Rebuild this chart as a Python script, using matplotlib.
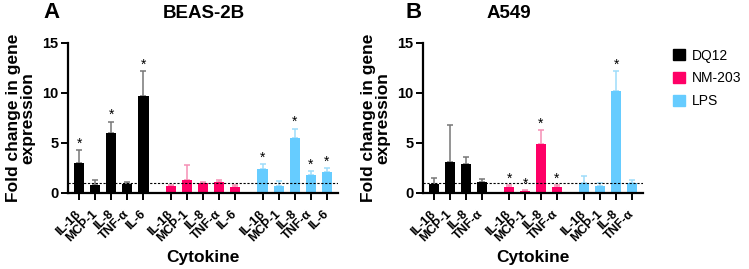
import numpy as np
import matplotlib.pyplot as plt
from matplotlib.transforms import ScaledTranslation

plt.rcParams["font.family"] = ["Liberation Sans", "DejaVu Sans"]

# ---- data ----
groups = ["DQ12", "NM-203", "LPS"]
colors = ["#000000", "#FF0066", "#66CCFF"]
err_colors = ["#777777", "#F58FB5", "#9EDCFA"]

cyt_a = ["IL-1β", "MCP-1", "IL-8", "TNF-α", "IL-6"]
mean_a = [[3.0, 0.8, 6.05, 0.9, 9.7],
          [0.75, 1.35, 1.0, 1.1, 0.65],
          [2.4, 0.75, 5.5, 1.8, 2.1]]
err_a = [[1.3, 0.55, 1.1, 0.2, 2.5],
         [0.1, 1.45, 0.15, 0.2, 0.2],
         [0.5, 0.5, 0.95, 0.4, 0.4]]
star_a = [[1, 0, 1, 0, 1],
          [0, 0, 0, 0, 0],
          [1, 0, 1, 1, 1]]

cyt_b = ["IL-1β", "MCP-1", "IL-8", "TNF-α"]
mean_b = [[0.95, 3.1, 2.9, 1.15],
          [0.6, 0.2, 4.9, 0.65],
          [1.05, 0.75, 10.2, 1.05]]
err_b = [[0.55, 3.7, 0.7, 0.25],
         [0.2, 0.1, 1.4, 0.15],
         [0.65, 0.3, 2.0, 0.25]]
star_b = [[0, 0, 0, 0],
          [1, 1, 1, 1],
          [0, 0, 1, 0]]

GAP = 1.72
WIDTH = 0.65


def draw_panel(ax, cyts, means, errs, stars):
    n = len(cyts)
    xs_all, labels = [], []
    for g in range(len(groups)):
        xs = np.arange(n) + g * (n - 1 + GAP)
        ax.bar(xs, means[g], width=WIDTH, color=colors[g], zorder=2)
        ax.errorbar(xs, means[g], yerr=[np.zeros(n), errs[g]], fmt="none",
                    ecolor=err_colors[g], elinewidth=1.1, capsize=2.5,
                    capthick=1.1, zorder=1)
        for x, m, e, s in zip(xs, means[g], errs[g], stars[g]):
            if s:
                ax.text(x, m + e - 0.05, "*", ha="center", va="bottom",
                        fontsize=10)
        xs_all += list(xs)
        labels += cyts
    ax.axhline(1, color="black", ls=(0, (2, 1.5)), lw=0.8, zorder=3)
    ax.set_xticks(xs_all)
    ax.set_xticklabels(labels, rotation=45, ha="right", va="center",
                       rotation_mode="anchor", fontsize=9, fontweight="bold")
    shift = ScaledTranslation(3 / 100, 0, fig.dpi_scale_trans)
    for t in ax.get_xticklabels():
        t.set_transform(t.get_transform() + shift)
    ax.set_xlim(xs_all[0] - 0.69, xs_all[-1] + 0.69)
    ax.set_ylim(0, 15)
    ax.set_yticks([0, 5, 10, 15])
    for t in ax.get_yticklabels():
        t.set_fontweight("bold")
        t.set_fontsize(10.5)
    for sp in ["top", "right"]:
        ax.spines[sp].set_visible(False)
    for sp in ["left", "bottom"]:
        ax.spines[sp].set_linewidth(1.6)
    ax.tick_params(width=1.4, length=5, pad=2)
    ax.tick_params(axis="x", pad=9)
    ax.set_xlabel("Cytokine", fontsize=12.5, fontweight="bold", labelpad=4)
    ax.set_ylabel("Fold change in gene\nexpression", fontsize=12.5,
                  fontweight="bold", labelpad=5, linespacing=0.95)


fig = plt.figure(figsize=(7.49, 2.69), dpi=100)
ax_a = fig.add_axes([68 / 749, 1 - 193 / 269, 270 / 749, 150 / 269])
ax_b = fig.add_axes([423 / 749, 1 - 193 / 269, 220 / 749, 150 / 269])

draw_panel(ax_a, cyt_a, mean_a, err_a, star_a)
draw_panel(ax_b, cyt_b, mean_b, err_b, star_b)

fig.text(43 / 749, 1 - 13 / 269, "A", fontsize=16, fontweight="bold",
         va="center")
fig.text(204 / 749, 1 - 13 / 269, "BEAS-2B", fontsize=13.5,
         fontweight="bold", ha="center", va="center")
fig.text(406 / 749, 1 - 13 / 269, "B", fontsize=16, fontweight="bold",
         va="center")
fig.text(509 / 749, 1 - 13 / 269, "A549", fontsize=13.5, fontweight="bold",
         ha="center", va="center")

# legend
handles = [plt.Rectangle((0, 0), 1, 1, color=c) for c in colors]
fig.legend(handles, groups, loc="upper left",
           bbox_to_anchor=(663 / 749, 1 - 39 / 269), frameon=False,
           fontsize=10, handlelength=0.85, handleheight=0.85,
           handletextpad=0.5, labelspacing=0.62, borderpad=0.2)

fig.savefig("out.png", dpi=100)
